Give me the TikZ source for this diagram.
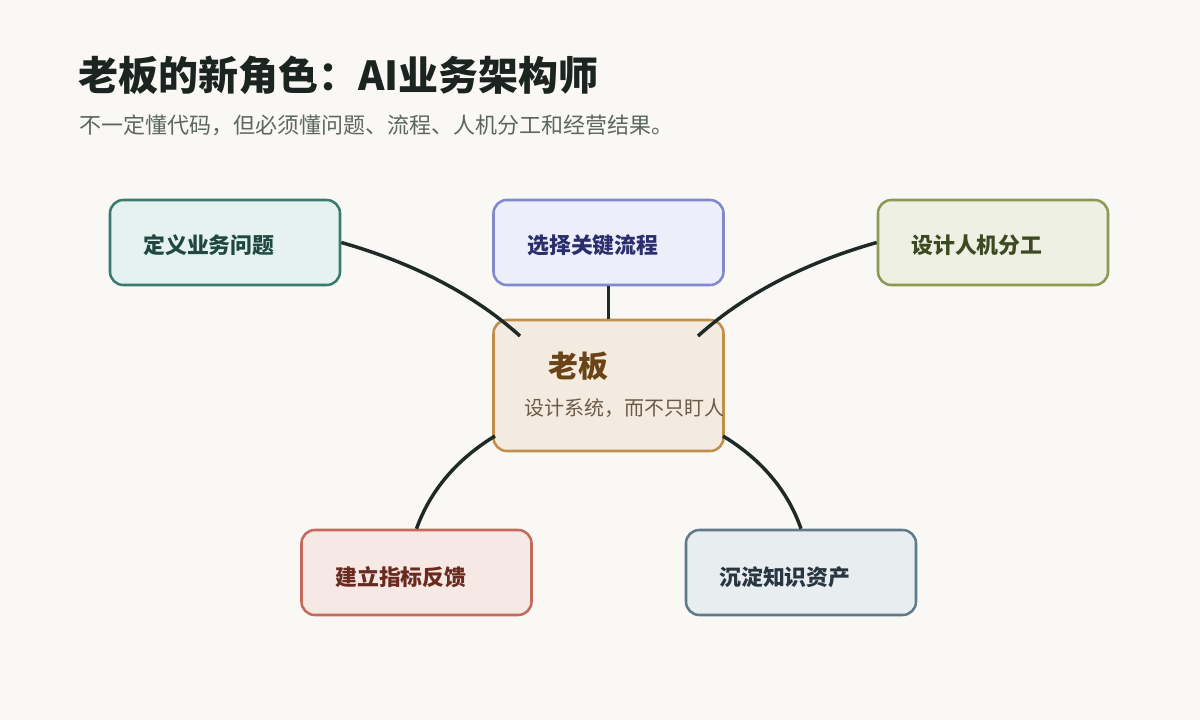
\documentclass[tikz,border=0pt]{standalone}
\usepackage{fontspec}
\setmainfont{Noto Sans CJK SC}
\newfontfamily\cjk{Noto Sans CJK SC}
\begin{document}
\begin{tikzpicture}[x=0.75pt,y=-0.75pt,
  box/.style={draw, line width=1.9pt, rounded corners=10pt, minimum width=172.5pt, minimum height=63.75pt, inner sep=0pt},
  lbl/.style={anchor=west, inner sep=0pt, font=\cjk\bfseries\fontsize{16.4}{18}\selectfont},
  link/.style={draw=linkc, line width=2.6pt},
]
\definecolor{bg}{HTML}{FAF8F4}
\definecolor{linkc}{HTML}{1F2A28}
\definecolor{titlec}{HTML}{1C2422}
\definecolor{subc}{HTML}{5C6662}
\definecolor{tealF}{HTML}{E6F2EF}\definecolor{tealD}{HTML}{3B7A6F}\definecolor{tealT}{HTML}{1E4841}
\definecolor{blueF}{HTML}{ECEEF9}\definecolor{blueD}{HTML}{8089CC}\definecolor{blueT}{HTML}{2A2F6B}
\definecolor{oliveF}{HTML}{EEF0E4}\definecolor{oliveD}{HTML}{8A9A52}\definecolor{oliveT}{HTML}{3D4920}
\definecolor{goldF}{HTML}{F3EBDF}\definecolor{goldD}{HTML}{C08F4A}\definecolor{goldT}{HTML}{6A4316}\definecolor{goldS}{HTML}{6B5A48}
\definecolor{redF}{HTML}{F6E8E4}\definecolor{redD}{HTML}{C46A5A}\definecolor{redT}{HTML}{6B2A20}
\definecolor{slateF}{HTML}{E8EDF0}\definecolor{slateD}{HTML}{5F7A8A}\definecolor{slateT}{HTML}{27363F}

\fill[bg] (0,0) rectangle (1200,720);
\useasboundingbox (0,0) rectangle (1200,720);

\node[anchor=west, inner sep=0pt, text=titlec, font=\cjk\bfseries\fontsize{30}{34}\selectfont] (title) at (78,75) {老板的新角色：AI业务架构师};
\node[anchor=west, inner sep=0pt, text=subc, font=\cjk\fontsize{16.5}{19}\selectfont] (sub) at (79,125) {不一定懂代码，但必须懂问题、流程、人机分工和经营结果。};

\coordinate (c1) at (520,336);
\coordinate (c3) at (698,336);
\coordinate (c4) at (495,436);
\coordinate (c5) at (723,436);

\node[box, fill=tealF, draw=tealD] (n1) at (225,242.5) {};
\node[box, fill=blueF, draw=blueD] (n2) at (608.5,242.5) {};
\node[box, fill=oliveF, draw=oliveD] (n3) at (993,242.5) {};
\node[box, fill=goldF, draw=goldD, minimum height=98.25pt] (c) at (608.5,385.5) {};
\node[box, fill=redF, draw=redD] (n4) at (416.5,572.5) {};
\node[box, fill=slateF, draw=slateD] (n5) at (801,572.5) {};

\draw[link] (n1.east) .. controls (413.3,263) and (473.3,294) .. (c1);
\draw[link] (n2.south) -- (c.north);
\draw[link] (n3.west) .. controls (804.7,263) and (744.7,294) .. (c3);
\draw[link] (c4) .. controls (455.7,460) and (430,491.3) .. (n4.north);
\draw[link] (c5) .. controls (762.3,460) and (788,491.3) .. (n5.north);

\node[lbl, text=tealT] (t1) at (143,245) {定义业务问题};
\node[lbl, text=blueT] (t2) at (527,245) {选择关键流程};
\node[lbl, text=oliveT] (t3) at (911,245) {设计人机分工};
\node[lbl, text=redT] (t4) at (335,577) {建立指标反馈};
\node[lbl, text=slateT] (t5) at (719,577) {沉淀知识资产};

\node[anchor=west, inner sep=0pt, text=goldT, font=\cjk\bfseries\fontsize{22.4}{26}\selectfont] (ct) at (548,366) {老板};
\node[anchor=west, inner sep=0pt, text=goldS, font=\cjk\fontsize{15}{18}\selectfont] (cs) at (524,408) {设计系统，而不只盯人};
\end{tikzpicture}
\end{document}
